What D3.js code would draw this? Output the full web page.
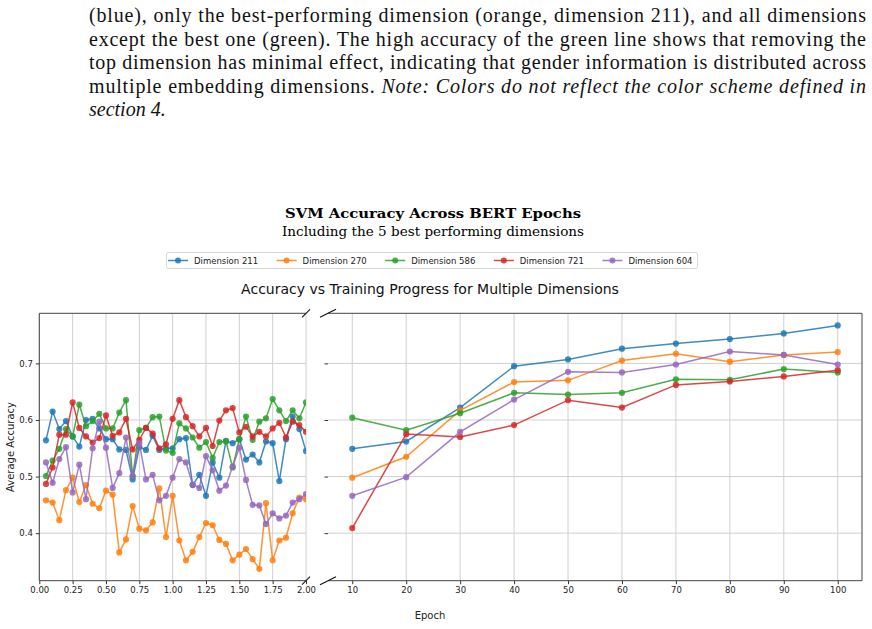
<!DOCTYPE html>
<html>
<head>
<meta charset="utf-8">
<script src="https://cdn.jsdelivr.net/npm/d3@7"></script>
<style>
  html, body { margin: 0; padding: 0; background: #fff; }
  svg { display: block; }
  .para { font-family: "Liberation Serif", serif; font-size: 20px; fill: #111; }
  .sans { font-family: "DejaVu Sans", sans-serif; }
  .serif { font-family: "DejaVu Serif", serif; }
</style>
</head>
<body>
<svg id="chart" width="872" height="629"></svg>
<script>
// ---------------- DATA ----------------
const seriesNames = ["Dimension 211", "Dimension 270", "Dimension 586", "Dimension 721", "Dimension 604"];
const seriesColors = ["#1f77b4", "#ff7f0e", "#2ca02c", "#d62728", "#9467bd"];

// fractional progress (first two epochs), left panel
const leftX = [0.05, 0.10, 0.15, 0.20, 0.25, 0.30, 0.35, 0.40, 0.45, 0.50,
               0.55, 0.60, 0.65, 0.70, 0.75, 0.80, 0.85, 0.90, 0.95, 1.00,
               1.05, 1.10, 1.15, 1.20, 1.25, 1.30, 1.35, 1.40, 1.45, 1.50,
               1.55, 1.60, 1.65, 1.70, 1.75, 1.80, 1.85, 1.90, 1.95, 2.00];

const dim211Left = [0.564, 0.615, 0.584, 0.598, 0.571, 0.553, 0.600, 0.602, 0.585, 0.566,
                    0.566, 0.548, 0.547, 0.495, 0.552, 0.547, 0.572, 0.547, 0.550, 0.550,
                    0.566, 0.568, 0.485, 0.503, 0.466, 0.525, 0.498, 0.563, 0.559, 0.566,
                    0.530, 0.539, 0.525, 0.562, 0.559, 0.492, 0.566, 0.606, 0.584, 0.545];
const dim270Left = [0.458, 0.454, 0.423, 0.476, 0.498, 0.455, 0.485, 0.452, 0.444, 0.475,
                    0.468, 0.366, 0.389, 0.448, 0.408, 0.405, 0.419, 0.479, 0.393, 0.466,
                    0.387, 0.352, 0.367, 0.393, 0.418, 0.414, 0.388, 0.381, 0.352, 0.362,
                    0.372, 0.354, 0.337, 0.453, 0.352, 0.387, 0.392, 0.435, 0.463, 0.460];
const dim586Left = [0.501, 0.528, 0.549, 0.584, 0.571, 0.627, 0.589, 0.598, 0.611, 0.585,
                    0.585, 0.613, 0.635, 0.500, 0.582, 0.586, 0.605, 0.606, 0.546, 0.542,
                    0.594, 0.585, 0.569, 0.551, 0.561, 0.533, 0.561, 0.562, 0.516, 0.566,
                    0.606, 0.565, 0.597, 0.603, 0.637, 0.617, 0.598, 0.617, 0.603, 0.631];
const dim721Left = [0.487, 0.516, 0.574, 0.574, 0.631, 0.586, 0.571, 0.560, 0.568, 0.608,
                    0.572, 0.578, 0.602, 0.548, 0.565, 0.586, 0.576, 0.550, 0.557, 0.602,
                    0.635, 0.605, 0.589, 0.571, 0.586, 0.554, 0.599, 0.617, 0.621, 0.578,
                    0.588, 0.571, 0.579, 0.571, 0.585, 0.595, 0.569, 0.597, 0.591, 0.579];
const dim604Left = [0.525, 0.489, 0.531, 0.552, 0.472, 0.521, 0.460, 0.550, 0.597, 0.551,
                    0.480, 0.506, 0.569, 0.501, 0.559, 0.495, 0.503, 0.458, 0.466, 0.498,
                    0.531, 0.525, 0.486, 0.480, 0.536, 0.511, 0.475, 0.484, 0.518, 0.551,
                    0.494, 0.450, 0.449, 0.416, 0.435, 0.426, 0.431, 0.454, 0.460, 0.469];

// whole epochs, right panel
const rightEpochs = [10, 20, 30, 40, 50, 60, 70, 80, 90, 100];
const dim211Right = [0.549, 0.562, 0.622, 0.695, 0.707, 0.726, 0.735, 0.743, 0.753, 0.767];
const dim270Right = [0.498, 0.535, 0.617, 0.667, 0.670, 0.705, 0.717, 0.703, 0.715, 0.720];
const dim586Right = [0.604, 0.582, 0.612, 0.648, 0.645, 0.648, 0.672, 0.671, 0.690, 0.684];
const dim721Right = [0.409, 0.575, 0.570, 0.591, 0.635, 0.622, 0.662, 0.668, 0.677, 0.688];
const dim604Right = [0.466, 0.499, 0.579, 0.636, 0.685, 0.684, 0.698, 0.721, 0.715, 0.698];

const leftTicks = [0.00, 0.25, 0.50, 0.75, 1.00, 1.25, 1.50, 1.75, 2.00];
const rightTicks = [10, 20, 30, 40, 50, 60, 70, 80, 90, 100];
const yTicks = [0.4, 0.5, 0.6, 0.7];

const paragraphLines = [
  [{t: "(blue), only the best-performing dimension (orange, dimension 211), and all dimensions"}],
  [{t: "except the best one (green). The high accuracy of the green line shows that removing the"}],
  [{t: "top dimension has minimal effect, indicating that gender information is distributed across"}],
  [{t: "multiple embedding dimensions. "}, {t: "Note: Colors do not reflect the color scheme defined in", i: true}],
  [{t: "section 4.", i: true}]
];

// ---------------- DRAW ----------------
const svg = d3.select("#chart");
const leftSeries = [dim211Left, dim270Left, dim586Left, dim721Left, dim604Left];
const rightSeries = [dim211Right, dim270Right, dim586Right, dim721Right, dim604Right];

// paragraph
const paraBase = [22, 46, 69, 93, 116];
paragraphLines.forEach((line, i) => {
  const txt = svg.append("text").attr("class", "para")
    .attr("x", 89).attr("y", paraBase[i]);
  if (i < 4) txt.attr("textLength", 777).attr("lengthAdjust", "spacing");
  line.forEach(seg => {
    txt.append("tspan").attr("font-style", seg.i ? "italic" : "normal").text(seg.t);
  });
});

// titles
svg.append("text").attr("class", "serif").attr("x", 433).attr("y", 218).attr("text-anchor", "middle")
  .attr("font-weight", "bold").attr("font-size", 13)
  .attr("textLength", 296).attr("lengthAdjust", "spacingAndGlyphs")
  .text("SVM Accuracy Across BERT Epochs");
svg.append("text").attr("class", "serif").attr("x", 433).attr("y", 236).attr("text-anchor", "middle")
  .attr("font-size", 12)
  .attr("textLength", 302).attr("lengthAdjust", "spacingAndGlyphs")
  .text("Including the 5 best performing dimensions");

// legend
const legend = svg.append("g");
legend.append("rect").attr("x", 166.5).attr("y", 252.5).attr("width", 531).attr("height", 16)
  .attr("rx", 2).attr("fill", "#fff").attr("stroke", "#d8d8d8").attr("stroke-width", 1);
seriesNames.forEach((name, i) => {
  const x0 = 168 + i * 108.6;
  const g = legend.append("g").attr("transform", `translate(${x0},260.5)`);
  g.append("line").attr("x1", 0).attr("x2", 20).attr("stroke", seriesColors[i]).attr("stroke-width", 1.5).attr("stroke-opacity", 0.85);
  g.append("circle").attr("cx", 10).attr("r", 3).attr("fill", seriesColors[i]).attr("fill-opacity", 0.85);
  g.append("text").attr("class", "sans").attr("x", 26).attr("y", 3)
    .attr("font-size", 8.5).attr("fill", "#222").text(name);
});

// heading
svg.append("text").attr("class", "sans").attr("x", 430).attr("y", 294).attr("text-anchor", "middle")
  .attr("font-size", 14).attr("fill", "#111")
  .text("Accuracy vs Training Progress for Multiple Dimensions");

// scales
const plotTop = 313.3, plotBottom = 580.7;
const y = d3.scaleLinear().domain([0.316, 0.7885]).range([plotBottom, plotTop]);
const xL = d3.scaleLinear().domain([0, 2]).range([39.3, 306]);
const xR = d3.scaleLinear().domain([5.5, 104.5]).range([328, 862]);

const gridColor = "#d0d0d0";
function panel(xs, ticks, fmt, xVals, series, clipId, showYLabels) {
  const [x0, x1] = xs.range();
  const g = svg.append("g");
  svg.append("clipPath").attr("id", clipId).append("rect")
    .attr("x", x0).attr("y", plotTop).attr("width", x1 - x0).attr("height", plotBottom - plotTop);
  g.selectAll(".vg").data(ticks).join("line")
    .attr("x1", d => xs(d)).attr("x2", d => xs(d)).attr("y1", plotTop).attr("y2", plotBottom)
    .attr("stroke", gridColor).attr("stroke-width", 1);
  g.selectAll(".hg").data(yTicks).join("line")
    .attr("x1", x0).attr("x2", x1).attr("y1", d => y(d)).attr("y2", d => y(d))
    .attr("stroke", gridColor).attr("stroke-width", 1);
  const xa = g.append("g").attr("transform", `translate(0,${plotBottom})`)
    .call(d3.axisBottom(xs).tickValues(ticks).tickFormat(fmt).tickSize(3.5).tickPadding(2.5));
  xa.select(".domain").remove();
  xa.selectAll("line").attr("stroke", "#333");
  xa.selectAll("text").attr("font-family", "DejaVu Sans, sans-serif").attr("font-size", 8.5).attr("fill", "#222");
  const ya = g.append("g").attr("transform", `translate(${x0},0)`)
    .call(d3.axisLeft(y).tickValues(yTicks).tickFormat(showYLabels ? d3.format(".1f") : "").tickSize(3.5).tickPadding(3));
  ya.select(".domain").remove();
  ya.selectAll("line").attr("stroke", "#333");
  ya.selectAll("text").attr("font-family", "DejaVu Sans, sans-serif").attr("font-size", 8.5).attr("fill", "#222");
  const line = d3.line().x((d, i) => xs(xVals[i])).y(d => y(d));
  const data = g.append("g").attr("clip-path", `url(#${clipId})`);
  series.forEach((vals, si) => {
    data.append("path").datum(vals).attr("d", line).attr("fill", "none")
      .attr("stroke", seriesColors[si]).attr("stroke-width", 1.5).attr("stroke-opacity", 0.85);
    data.selectAll(null).data(vals).join("circle")
      .attr("cx", (d, i) => xs(xVals[i])).attr("cy", d => y(d)).attr("r", 3.1)
      .attr("fill", seriesColors[si]).attr("fill-opacity", 0.85);
  });
  return g;
}

panel(xL, leftTicks, d3.format(".2f"), leftX, leftSeries, "clipL", true);
panel(xR, rightTicks, d3.format("d"), rightEpochs, rightSeries, "clipR", false);

// spines
function sp(x1, y1, x2, y2) {
  svg.append("line").attr("x1", x1).attr("y1", y1).attr("x2", x2).attr("y2", y2)
    .attr("stroke", "#444").attr("stroke-width", 1);
}
sp(xL(0), plotTop, xL(0), plotBottom);
sp(xL(0), plotTop, xL(2), plotTop);
sp(xL(0), plotBottom, xL(2), plotBottom);
sp(xR(5.5), plotTop, xR(104.5), plotTop);
sp(xR(5.5), plotBottom, xR(104.5), plotBottom);
sp(xR(104.5), plotTop, xR(104.5), plotBottom);

// break marks
function brk(cx, cy, hw, hh) {
  svg.append("line").attr("x1", cx - hw).attr("y1", cy + hh).attr("x2", cx + hw).attr("y2", cy - hh)
    .attr("stroke", "#111").attr("stroke-width", 1.1);
}
brk(xL(2), plotTop, 4, 4); brk(xL(2), plotBottom, 4, 4);
brk(xR(5.5), plotTop, 8, 4); brk(xR(5.5), plotBottom, 8, 4);

// axis labels
svg.append("text").attr("class", "sans").attr("transform", `translate(14,${(plotTop + plotBottom) / 2}) rotate(-90)`)
  .attr("text-anchor", "middle").attr("font-size", 10).attr("fill", "#222").text("Average Accuracy");
svg.append("text").attr("class", "sans").attr("x", 430).attr("y", 619).attr("text-anchor", "middle")
  .attr("font-size", 10).attr("fill", "#222").text("Epoch");
</script>
</body>
</html>
